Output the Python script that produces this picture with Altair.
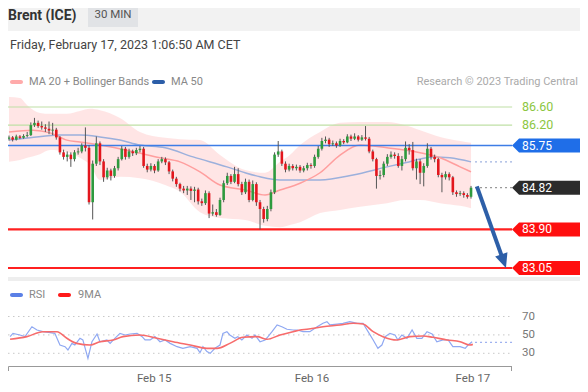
import altair as alt
import pandas as pd

FONT = "Roboto"

# ---------------- data ----------------
first_open = 85.90
close = [85.93, 85.88, 85.95, 85.92, 85.96, 85.98, 86.20, 86.25, 86.18, 86.15,
         86.12, 86.08, 86.10, 85.93, 85.60, 85.50, 85.55, 85.45, 85.60, 85.62,
         85.75, 85.70, 84.50, 85.35, 85.80, 85.40, 85.05, 85.20, 85.08, 85.25,
         85.45, 85.68, 85.50, 85.62, 85.58, 85.65, 85.68, 85.30, 85.22, 85.30,
         85.20, 85.40, 85.45, 85.38, 85.18, 85.02, 84.90, 84.80, 84.76, 84.80,
         84.75, 84.78, 84.52, 84.48, 84.70, 84.25, 84.28, 84.22, 84.55, 84.92,
         85.08, 84.95, 85.12, 84.90, 84.72, 84.95, 84.55, 84.90, 84.50, 84.35,
         84.13, 84.35, 84.72, 85.55, 85.62, 85.35, 85.22, 85.30, 85.25, 85.28,
         85.20, 85.25, 85.32, 85.30, 85.50, 85.68, 85.85, 85.88, 85.78, 85.80,
         85.75, 85.85, 85.82, 85.95, 85.90, 85.95, 85.88, 85.93, 85.90, 85.62,
         85.45, 85.08, 85.10, 85.35, 85.50, 85.55, 85.52, 85.30, 85.45, 85.70,
         85.65, 85.25, 85.40, 85.15, 85.30, 85.68, 85.50, 85.45, 85.10, 85.05,
         85.12, 85.05, 84.72, 84.68, 84.70, 84.66, 84.62, 84.82]
high = [85.97, 85.96, 85.99, 85.98, 86.00, 86.05, 86.26, 86.36, 86.30, 86.28,
        86.22, 86.28, 86.25, 86.14, 85.96, 85.66, 85.62, 85.60, 85.65, 85.70,
        85.80, 86.15, 85.76, 85.42, 85.95, 85.84, 85.45, 85.26, 85.24, 85.30,
        85.50, 85.74, 85.72, 85.68, 85.66, 85.70, 85.74, 85.72, 85.35, 85.36,
        85.34, 85.45, 85.50, 85.49, 85.41, 85.22, 85.06, 84.93, 84.86, 84.86,
        84.85, 84.84, 84.82, 84.58, 84.76, 84.74, 84.45, 84.35, 84.60, 84.98,
        85.15, 85.12, 85.28, 85.25, 84.95, 85.02, 85.00, 84.98, 84.94, 84.55,
        84.40, 84.42, 84.78, 85.60, 85.85, 85.66, 85.40, 85.35, 85.34, 85.33,
        85.32, 85.30, 85.37, 85.36, 85.55, 85.74, 85.92, 85.95, 85.92, 85.86,
        85.84, 85.90, 85.89, 86.00, 85.99, 86.02, 85.98, 85.98, 86.18, 85.94,
        85.66, 85.48, 85.20, 85.40, 85.56, 85.62, 85.60, 85.58, 85.52, 85.84,
        85.78, 85.83, 85.46, 85.45, 85.36, 85.80, 85.72, 85.55, 85.48, 85.15,
        85.18, 85.16, 85.08, 84.76, 84.75, 84.74, 84.70, 84.86]
low = [85.86, 85.84, 85.86, 85.89, 85.90, 85.93, 85.96, 86.16, 86.14, 86.10,
       86.05, 86.00, 85.98, 85.88, 85.55, 85.44, 85.40, 85.28, 85.40, 85.55,
       85.58, 85.62, 84.45, 84.12, 85.30, 85.32, 84.95, 85.00, 84.98, 85.04,
       85.20, 85.42, 85.44, 85.46, 85.52, 85.54, 85.60, 85.26, 85.16, 85.18,
       85.14, 85.17, 85.36, 85.32, 85.12, 84.96, 84.84, 84.74, 84.70, 84.66,
       84.55, 84.50, 84.45, 84.42, 84.44, 84.15, 84.20, 84.18, 84.20, 84.50,
       84.88, 84.90, 84.92, 84.85, 84.66, 84.68, 84.50, 84.52, 84.42, 83.90,
       84.05, 84.08, 84.30, 84.68, 85.50, 85.30, 85.16, 85.18, 85.20, 85.20,
       85.15, 85.16, 85.20, 85.24, 85.26, 85.46, 85.64, 85.80, 85.72, 85.74,
       85.70, 85.72, 85.78, 85.80, 85.85, 85.87, 85.84, 85.85, 85.86, 85.58,
       85.40, 84.80, 85.00, 85.05, 85.30, 85.46, 85.46, 85.26, 85.20, 85.40,
       85.55, 85.20, 85.00, 84.90, 84.85, 85.26, 85.44, 85.38, 85.05, 84.72,
       85.00, 84.98, 84.66, 84.62, 84.64, 84.60, 84.58, 84.58]

band_idx = [0, 3, 5, 8.5, 11.3, 15.9, 19.5, 22.3, 25, 30.5, 36, 42.9, 47, 52.5, 58,
            64.9, 70.4, 74.5, 77.2, 80, 85.5, 91, 96.5, 103.9, 108.9, 113, 118.5, 124, 127]
band_upper = [86.82, 86.80, 86.64, 86.47, 86.45, 86.45, 86.51, 86.56, 86.53, 86.36,
              86.05, 85.92, 85.89, 85.87, 85.54, 85.21, 85.15, 85.39, 85.54, 85.76,
              86.05, 86.25, 86.27, 86.27, 86.20, 86.09, 85.94, 85.85, 85.81]
band_lower = [85.39, 85.43, 85.48, 85.56, 85.65, 85.61, 85.48, 85.32, 84.99, 85.06,
              85.03, 84.88, 84.73, 84.28, 84.15, 84.11, 83.98, 83.95, 84.00, 84.06,
              84.26, 84.33, 84.40, 84.48, 84.55, 84.55, 84.48, 84.42, 84.37]

ma20_idx = [0, 6.6, 11.3, 15.9, 19.5, 25.0, 33.3, 41.5, 47.0, 52.5, 58.0, 64.9,
            70.4, 74.5, 80.0, 85.5, 91.0, 96.5, 103.9, 108.9, 113.0, 118.5, 124.0, 127]
ma20 = [86.05, 86.09, 86.03, 85.87, 85.83, 85.76, 85.63, 85.48, 85.39, 85.17, 84.88, 84.77,
        84.66, 84.77, 84.92, 85.15, 85.54, 85.76, 85.70, 85.65, 85.59, 85.48, 85.28, 85.17]

ma50_idx = [0, 5.8, 14.0, 19.5, 25.0, 30.5, 36.0, 42.9, 50.6, 59.9, 64.9, 69.0,
            74.5, 85.5, 94.6, 103.9, 108.9, 116.5, 121.2, 127]
ma50 = [85.87, 85.92, 85.98, 85.98, 85.94, 85.87, 85.76, 85.70, 85.50, 85.28, 85.15, 85.06,
        84.99, 84.99, 85.10, 85.28, 85.37, 85.50, 85.48, 85.39]

rsi_idx = [0.3, 1.1, 3.0, 4.4, 6.3, 7.7, 9.3, 11.3, 12.6, 14.0,
           15.4, 16.2, 17.3, 18.1, 19.5, 20.3, 21.7, 22.8, 24.2, 25.0,
           26.9, 27.8, 29.1, 30.5, 31.9, 33.3, 35.2, 36.6, 37.4, 38.8,
           40.1, 41.5, 42.9, 44.3, 46.2, 47.8, 49.8, 51.7, 52.5, 53.3,
           54.4, 55.3, 56.6, 58.0, 58.8, 59.9, 60.7, 62.1, 62.9, 64.0,
           65.4, 66.8, 67.6, 69.0, 70.4, 71.2, 72.3, 73.7, 75.0, 76.4,
           78.1, 79.2, 80.8, 82.7, 84.7, 86.3, 87.4, 88.2, 90.2, 91.8,
           93.7, 95.7, 97.3, 98.7, 100.1, 101.4, 102.5, 103.4, 104.7, 106.1,
           106.9, 108.0, 109.4, 110.8, 112.1, 113.5, 114.9, 116.3, 117.6, 119.3,
           120.7, 122.0, 124.0, 125.4, 126.2, 127.3]
rsi = [48.1, 51.7, 49.9, 48.1, 58.9, 55.3, 53.5, 52.4, 51.7, 39.0,
       37.2, 33.6, 40.8, 39.0, 46.3, 44.5, 24.5, 42.6, 51.0, 42.6,
       44.5, 40.8, 46.3, 51.7, 49.9, 51.0, 51.7, 48.1, 44.5, 44.5,
       48.1, 42.6, 44.5, 40.8, 37.2, 35.4, 37.2, 35.4, 30.7, 37.2,
       31.8, 30.0, 35.4, 39.0, 51.7, 53.5, 49.9, 46.3, 48.1, 44.5,
       49.9, 46.3, 49.9, 42.6, 44.5, 48.1, 53.5, 60.8, 58.9, 56.1,
       55.3, 55.3, 53.5, 53.5, 58.9, 62.6, 64.4, 60.8, 61.8, 62.6,
       64.4, 62.6, 62.6, 53.5, 44.5, 35.4, 39.0, 48.1, 51.7, 49.9,
       44.5, 49.9, 46.3, 55.3, 46.3, 46.3, 53.5, 51.0, 42.6, 44.5,
       44.5, 37.2, 37.2, 35.4, 39.0, 42.6]

rsi_ma_idx = [0.3, 4.9, 9.3, 13.2, 15.9, 18.6, 22.3, 25.0, 28.6, 31.3,
              36.0, 40.7, 45.1, 49.8, 54.4, 57.2, 60.7, 64.3, 68.2, 70.9,
              74.5, 78.1, 80.0, 81.9, 86.3, 91.0, 94.6, 97.3, 100.1, 102.8,
              106.6, 110.2, 113.8, 116.5, 120.4, 124.0, 126.7, 127.5]
rsi_ma = [45.2, 48.1, 53.5, 53.5, 46.3, 40.8, 39.0, 42.6, 44.5, 48.1,
          49.9, 46.3, 42.6, 39.0, 35.4, 35.4, 40.8, 47.4, 48.1, 45.2,
          49.9, 53.5, 55.3, 56.1, 58.9, 60.8, 62.6, 61.8, 53.5, 48.1,
          44.5, 48.1, 48.8, 47.4, 44.5, 42.6, 39.0, 39.7]

resistance_levels = [86.60, 86.20]
pivot_level = 85.75
support_levels = [83.90, 83.05]
last_price = 84.82
ma50_last = 85.39
rsi_last = 41.9
rsi_levels = [70, 50, 30]
date_labels = ["Feb 15", "Feb 16", "Feb 17"]
date_idx = [39.9, 83.3, 127.5]
arrow_idx = [128.6, 135.5]
arrow_price = [84.85, 83.30]
arrow_tip = (136.6, 83.05)

# ---------------- layout constants ----------------
W, H = 572, 376
XDOM = [-0.275, 156.954]
PDOM = [80.492, 88.783]
RDOM = [-3.37, 405.33]
LINE_START, LINE_END = -0.275, 138.3
EXT_START = 128.1
TAG_IDX, TAG_TEXT_IDX = 140.2, 141.0

GREEN, RED = "#2e9a3e", "#e3161d"


def X(field="idx"):
    return alt.X(f"{field}:Q", scale=alt.Scale(domain=XDOM, nice=False, zero=False, padding=0),
                 axis=None)


def PY(field):
    return alt.Y(f"{field}:Q", scale=alt.Scale(domain=PDOM, nice=False, zero=False, padding=0),
                 axis=None)


def RY(field):
    return alt.Y(f"{field}:Q", scale=alt.Scale(domain=RDOM, nice=False, zero=False, padding=0),
                 axis=None)


one = pd.DataFrame({"k": [0]})


def ptext(txt, x, y, size=11, color="#888", weight="normal", align="left"):
    return alt.Chart(one).mark_text(text=txt, font=FONT, fontSize=size, color=color,
                                    fontWeight=weight, align=align, baseline="middle").encode(
        x=alt.value(x), y=alt.value(y))


def prect(x, x2, y, y2, color, r=0):
    return alt.Chart(one).mark_rect(color=color, cornerRadius=r).encode(
        x=alt.value(x), x2=alt.value(x2), y=alt.value(y), y2=alt.value(y2))


# ---------------- tables ----------------
opens = [first_open] + close[:-1]
candles = pd.DataFrame({"idx": list(range(len(close))), "open": opens, "close": close,
                        "high": high, "low": low})
candles["dir"] = ["up" if c >= o else "down" for o, c in zip(opens, close)]

band = pd.DataFrame({"idx": band_idx, "upper": band_upper, "lower": band_lower})
ma20_df = pd.DataFrame({"idx": ma20_idx, "v": ma20})
ma50_df = pd.DataFrame({"idx": ma50_idx, "v": ma50})

levels = pd.DataFrame({
    "price": resistance_levels + [pivot_level] + support_levels,
    "col": ["#bfe0a6", "#bfe0a6", "#3d7de6", "#ff2020", "#ff2020"],
    "w": [1.2, 1.2, 1.6, 2.2, 2.2],
    "x0": LINE_START, "x1": LINE_END})

ext = pd.DataFrame({"price": [ma50_last, last_price], "col": ["#9fb2e0", "#999999"],
                    "x0": EXT_START, "x1": LINE_END})

tags = pd.DataFrame({"price": [pivot_level, last_price] + support_levels,
                     "col": ["#1f6ee8", "#2b2b2b", "#ff0f0f", "#ff0f0f"]})
tags["label"] = [f"{p:.2f}" for p in tags["price"]]
tags["idx"] = TAG_IDX
tags["tidx"] = TAG_TEXT_IDX

res_lab = pd.DataFrame({"price": resistance_levels,
                        "label": [f"{p:.2f}" for p in resistance_levels],
                        "tidx": TAG_TEXT_IDX})

arrow = pd.DataFrame({"idx": arrow_idx, "price": arrow_price})
tip = pd.DataFrame({"idx": [arrow_tip[0]], "price": [arrow_tip[1]]})

rsi_df = pd.DataFrame({"idx": rsi_idx, "v": rsi})
rsi_ma_df = pd.DataFrame({"idx": rsi_ma_idx, "v": rsi_ma})
rgrid = pd.DataFrame({"v": rsi_levels, "x0": LINE_START, "x1": LINE_END,
                      "label": [str(v) for v in rsi_levels], "tidx": TAG_TEXT_IDX})
rext = pd.DataFrame({"v": [rsi_last], "x0": EXT_START, "x1": LINE_END})
dates = pd.DataFrame({"idx": date_idx, "label": date_labels})

# ---------------- layers ----------------
layers = []

# header
layers.append(prect(0, W, 0, 23, "#f2f2f2"))
layers.append(prect(80, 130, 0, 19, "#e1e3e6"))
layers.append(ptext("Brent (ICE)", 0, 8, size=14, color="#333", weight="bold"))
layers.append(ptext("30 MIN", 105, 7, size=11.5, color="#555", align="center"))
layers.append(ptext("Friday, February 17, 2023 1:06:50 AM CET", 2, 37, size=12.5, color="#444"))

# legend
layers.append(prect(2, 15, 72, 76, "#ffaaaa", 2))
layers.append(ptext("MA 20 + Bollinger Bands", 21, 74, size=11, color="#888"))
layers.append(prect(144, 157, 72, 76, "#2c5ea8", 2))
layers.append(ptext("MA 50", 163, 74, size=11, color="#888"))
layers.append(ptext("Research \u00a9 2023 Trading Central", 570, 74, size=11, color="#aaa", align="right"))

# bollinger band and moving averages
layers.append(alt.Chart(band).mark_area(color="#ffdede", opacity=0.8, interpolate="monotone").encode(
    x=X(), y=PY("upper"), y2="lower:Q"))
layers.append(alt.Chart(ma50_df).mark_line(color="#9cb0dc", strokeWidth=1.5, interpolate="monotone").encode(
    x=X(), y=PY("v")))
layers.append(alt.Chart(ma20_df).mark_line(color="#ff9e9e", strokeWidth=1.5, interpolate="monotone").encode(
    x=X(), y=PY("v")))

# level lines
layers.append(alt.Chart(levels).mark_rule().encode(
    x=X("x0"), x2="x1:Q", y=PY("price"),
    color=alt.Color("col:N", scale=None),
    strokeWidth=alt.StrokeWidth("w:Q", scale=None)))
layers.append(alt.Chart(ext).mark_rule(strokeDash=[2, 3], strokeWidth=1.2).encode(
    x=X("x0"), x2="x1:Q", y=PY("price"), color=alt.Color("col:N", scale=None)))

# candles
layers.append(alt.Chart(candles).mark_rule(color="#555", strokeWidth=1).encode(
    x=X(), y=PY("low"), y2="high:Q"))
layers.append(alt.Chart(candles).mark_bar(size=2.6).encode(
    x=X(), y=PY("open"), y2="close:Q",
    color=alt.Color("dir:N", scale=alt.Scale(domain=["up", "down"], range=[GREEN, RED]), legend=None)))

# price tags
layers.append(alt.Chart(tags).mark_point(filled=True, opacity=1, size=196, strokeWidth=0,
                                         shape="M -1 0 L 0 -1 L 11 -1 L 11 1 L 0 1 Z").encode(
    x=X(), y=PY("price"), color=alt.Color("col:N", scale=None)))
layers.append(alt.Chart(tags).mark_text(font=FONT, fontSize=12, color="white", align="left",
                                        baseline="middle").encode(
    x=X("tidx"), y=PY("price"), text="label:N"))
layers.append(alt.Chart(res_lab).mark_text(font=FONT, fontSize=12.5, color="#8cc63f", align="left",
                                           baseline="middle").encode(
    x=X("tidx"), y=PY("price"), text="label:N"))

# forecast arrow
layers.append(alt.Chart(arrow).mark_line(color="#2d5fa8", strokeWidth=4, strokeCap="butt").encode(
    x=X(), y=PY("price")))
layers.append(alt.Chart(tip).mark_point(filled=True, opacity=1, size=169, strokeWidth=0, angle=341,
                                        color="#2d5fa8", shape="M 0 0 L -1 -2.2 L 1 -2.2 Z").encode(
    x=X(), y=PY("price")))

# panel separator
layers.append(prect(0, W, 269, 273, "#eeeeee"))

# RSI legend
layers.append(prect(2, 15, 285, 289, "#5b80e6", 2))
layers.append(ptext("RSI", 21, 287, size=11, color="#888"))
layers.append(prect(50, 63, 285, 289, "#ff1a1a", 2))
layers.append(ptext("9MA", 70, 287, size=11, color="#888"))

# RSI panel
layers.append(alt.Chart(rgrid).mark_rule(color="#c8c8c8", strokeDash=[1.5, 3.5], strokeWidth=1).encode(
    x=X("x0"), x2="x1:Q", y=RY("v")))
layers.append(alt.Chart(rgrid).mark_text(font=FONT, fontSize=11.5, color="#777", align="left",
                                         baseline="middle").encode(
    x=X("tidx"), y=RY("v"), text="label:N"))
layers.append(alt.Chart(rext).mark_rule(color="#9fb2f0", strokeDash=[2, 3], strokeWidth=1.2).encode(
    x=X("x0"), x2="x1:Q", y=RY("v")))
layers.append(alt.Chart(rsi_df).mark_line(color="#8fa8f2", strokeWidth=1.2).encode(
    x=X(), y=RY("v")))
layers.append(alt.Chart(rsi_ma_df).mark_line(color="#f76b6b", strokeWidth=1.6, interpolate="monotone").encode(
    x=X(), y=RY("v")))

# bottom axis
layers.append(alt.Chart(one).mark_rule(color="#999", strokeWidth=1).encode(
    x=alt.value(0.5), x2=alt.value(504), y=alt.value(358.5)))
layers.append(alt.Chart(one).mark_rule(color="#999", strokeWidth=1).encode(
    x=alt.value(0.5), y=alt.value(358.5), y2=alt.value(363)))
layers.append(alt.Chart(one).mark_rule(color="#999", strokeWidth=1).encode(
    x=alt.value(503.5), y=alt.value(358.5), y2=alt.value(363)))
layers.append(alt.Chart(dates).mark_text(font=FONT, fontSize=11.5, color="#666", align="center",
                                         baseline="middle").encode(
    x=X(), y=alt.value(371), text="label:N"))

chart = alt.layer(*layers).resolve_scale(
    y="independent", color="independent", strokeWidth="independent"
).properties(
    width=W, height=H, autosize=alt.AutoSizeParams(type="none"), padding=0,
    background="white"
).configure_view(stroke=None)

chart.save("out.html", embed_options={"renderer": "svg", "actions": False})
